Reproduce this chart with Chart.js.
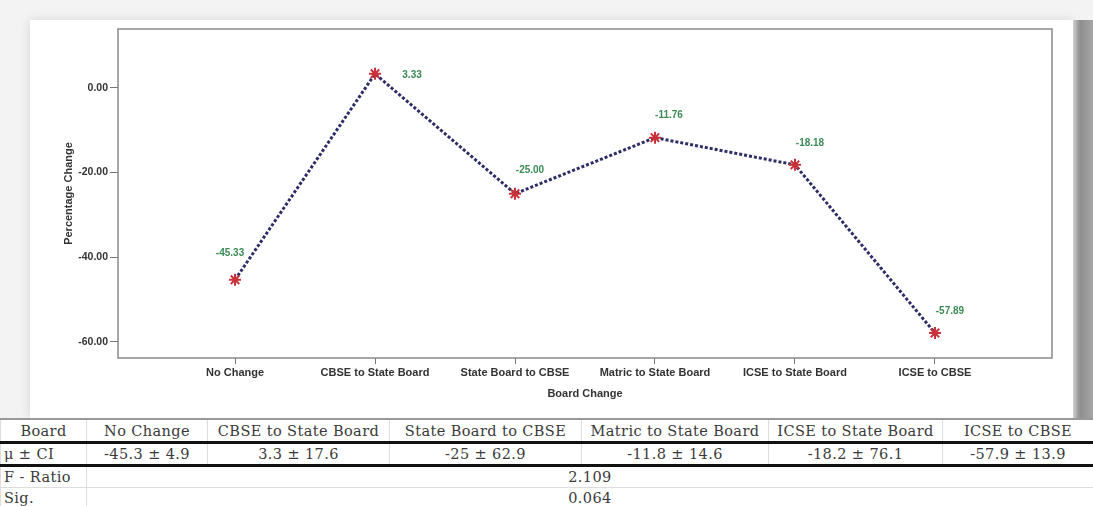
<!DOCTYPE html>
<html>
<head>
<meta charset="utf-8">
<script src="https://cdn.jsdelivr.net/npm/chart.js@4.4.1/dist/chart.umd.min.js"></script>
<style>
    body { margin: 0; width: 1093px; height: 506px; overflow: hidden; background: #f3f3f3; position: relative; }
    #card { position: absolute; left: 30px; top: 20px; width: 1043px; height: 398px; background: #fff; box-shadow: 0 0 10px rgba(0,0,0,0.12); }
    #edge { position: absolute; left: 1073px; top: 20px; width: 20px; height: 398px; background: linear-gradient(to right, #d0d0d0, #8e8e8e 35%, #a6a6a6 100%); }
    #wrap { position: absolute; left: 0; top: 0; width: 1093px; height: 418px; }
    table.stats { position: absolute; left: 0; top: 418px; width: 1093px; border-collapse: collapse; background: #fff; font-family: "DejaVu Serif", serif; font-size: 14.5px; letter-spacing: 0.4px; color: #3a3a3a; table-layout: fixed; }
    table.stats td { border-left: 1px solid #ddd; border-right: 1px solid #ddd; text-align: center; padding: 0; white-space: nowrap; line-height: 18px; }
    table.stats td.head { text-align: left; padding-left: 3px; }
    table.stats tr.r0 td { height: 21px; border-top: 2px solid #999; border-bottom: 3px solid #111; }
    table.stats tr.r1 td { height: 20px; border-bottom: 3px solid #111; }
    table.stats tr.r2 td { height: 20px; border-bottom: 1px solid #ddd; }
    table.stats tr.r3 td { height: 20px; }
</style>
</head>
<body>
<div id="card"></div>
<div id="edge"></div>
<div id="wrap"><canvas id="chart" width="1093" height="418"></canvas></div>

<table class="stats">
    <colgroup>
        <col style="width:86px"><col style="width:121px"><col style="width:182px"><col style="width:192px">
        <col style="width:187px"><col style="width:174px"><col style="width:151px">
    </colgroup>
    <tr class="r0" id="rowHead"><td>Board</td></tr>
    <tr class="r1" id="rowCI"><td class="head">μ ± CI</td></tr>
    <tr class="r2"><td class="head">F - Ratio</td><td colspan="6" id="fRatio"></td></tr>
    <tr class="r3"><td class="head">Sig.</td><td colspan="6" id="sig"></td></tr>
</table>

<script>
// chart data
var boards = ['No Change', 'CBSE to State Board', 'State Board to CBSE', 'Matric to State Board', 'ICSE to State Board', 'ICSE to CBSE'];
var pctChange = [-45.33, 3.33, -25.00, -11.76, -18.18, -57.89];
var yTicks = [-60, -40, -20, 0];

// table data
var ciText = ['-45.3 ± 4.9', '3.3 ± 17.6', '-25 ± 62.9', '-11.8 ± 14.6', '-18.2 ± 76.1', '-57.9 ± 13.9'];
var fRatio = '2.109';
var sigValue = '0.064';

// label offsets from each marker (dx, dy)
var labelOffsets = [[-5, -27], [37, 1], [15, -23], [14, -22], [15, -22], [15, -22]];

var rowHead = document.getElementById('rowHead');
var rowCI = document.getElementById('rowCI');
for (let i = 0; i < boards.length; i++) {
    let td = document.createElement('td');
    td.textContent = boards[i];
    rowHead.appendChild(td);
    let td2 = document.createElement('td');
    td2.textContent = ciText[i];
    rowCI.appendChild(td2);
}
document.getElementById('fRatio').textContent = fRatio;
document.getElementById('sig').textContent = sigValue;

var boxPlugin = {
    id: 'box',
    afterDraw: function(chart) {
        var a = chart.chartArea;
        var ctx = chart.ctx;
        ctx.save();
        ctx.strokeStyle = '#8a8a8a';
        ctx.lineWidth = 1.5;
        ctx.strokeRect(a.left, a.top, a.right - a.left, a.bottom - a.top);
        ctx.restore();
    }
};

var valueLabels = {
    id: 'valueLabels',
    afterDatasetsDraw: function(chart) {
        var ctx = chart.ctx;
        var meta = chart.getDatasetMeta(0);
        ctx.save();
        ctx.font = 'bold 10px "Liberation Sans", Arial, sans-serif';
        ctx.fillStyle = '#3b8a55';
        ctx.textAlign = 'center';
        ctx.textBaseline = 'middle';
        meta.data.forEach(function(pt, i) {
            ctx.fillText(pctChange[i].toFixed(2), pt.x + labelOffsets[i][0], pt.y + labelOffsets[i][1]);
        });
        ctx.restore();
    }
};

var axisFont = { family: '"Liberation Sans", Arial, sans-serif', size: 11, weight: 'bold' };

new Chart(document.getElementById('chart'), {
    type: 'line',
    data: {
        datasets: [{
            data: pctChange.map(function(v, i) { return { x: i, y: v }; }),
            borderColor: '#2c2d66',
            borderWidth: 3,
            borderDash: [3, 2],
            tension: 0,
            fill: false,
            pointStyle: 'star',
            pointRadius: 6,
            pointBorderWidth: 2,
            pointBorderColor: '#c8303a',
            pointBackgroundColor: '#c8303a'
        }]
    },
    options: {
        responsive: false,
        animation: false,
        layout: { padding: { left: 58, right: 41, top: 29, bottom: 0 } },
        plugins: { legend: { display: false }, tooltip: { enabled: false } },
        scales: {
            x: {
                type: 'linear',
                min: -0.836,
                max: 5.836,
                afterBuildTicks: function(scale) {
                    scale.ticks = boards.map(function(_, i) { return { value: i }; });
                },
                afterFit: function(scale) { scale.height = 60; },
                grid: { drawOnChartArea: false, drawTicks: true, tickLength: 6, tickColor: '#777' },
                border: { display: false },
                ticks: {
                    autoSkip: false,
                    maxRotation: 0,
                    padding: 2,
                    color: '#333',
                    font: axisFont,
                    callback: function(v) { return boards[v]; }
                },
                title: { display: true, text: 'Board Change', color: '#333', font: axisFont, padding: { top: 0, bottom: 17 } }
            },
            y: {
                min: -63.8,
                max: 13.9,
                afterBuildTicks: function(scale) {
                    scale.ticks = yTicks.map(function(v) { return { value: v }; });
                },
                afterFit: function(scale) { scale.width = 60; },
                grid: { drawOnChartArea: false, drawTicks: true, tickLength: 8, tickColor: '#777' },
                border: { display: false },
                ticks: {
                    padding: 2,
                    color: '#333',
                    font: { family: '"Liberation Sans", Arial, sans-serif', size: 10.5, weight: 'bold' },
                    callback: function(v) { return v.toFixed(2); }
                },
                title: { display: true, text: 'Percentage Change', color: '#333', font: axisFont, padding: { top: 4, bottom: 0 } }
            }
        }
    },
    plugins: [boxPlugin, valueLabels]
});
</script>
</body>
</html>
